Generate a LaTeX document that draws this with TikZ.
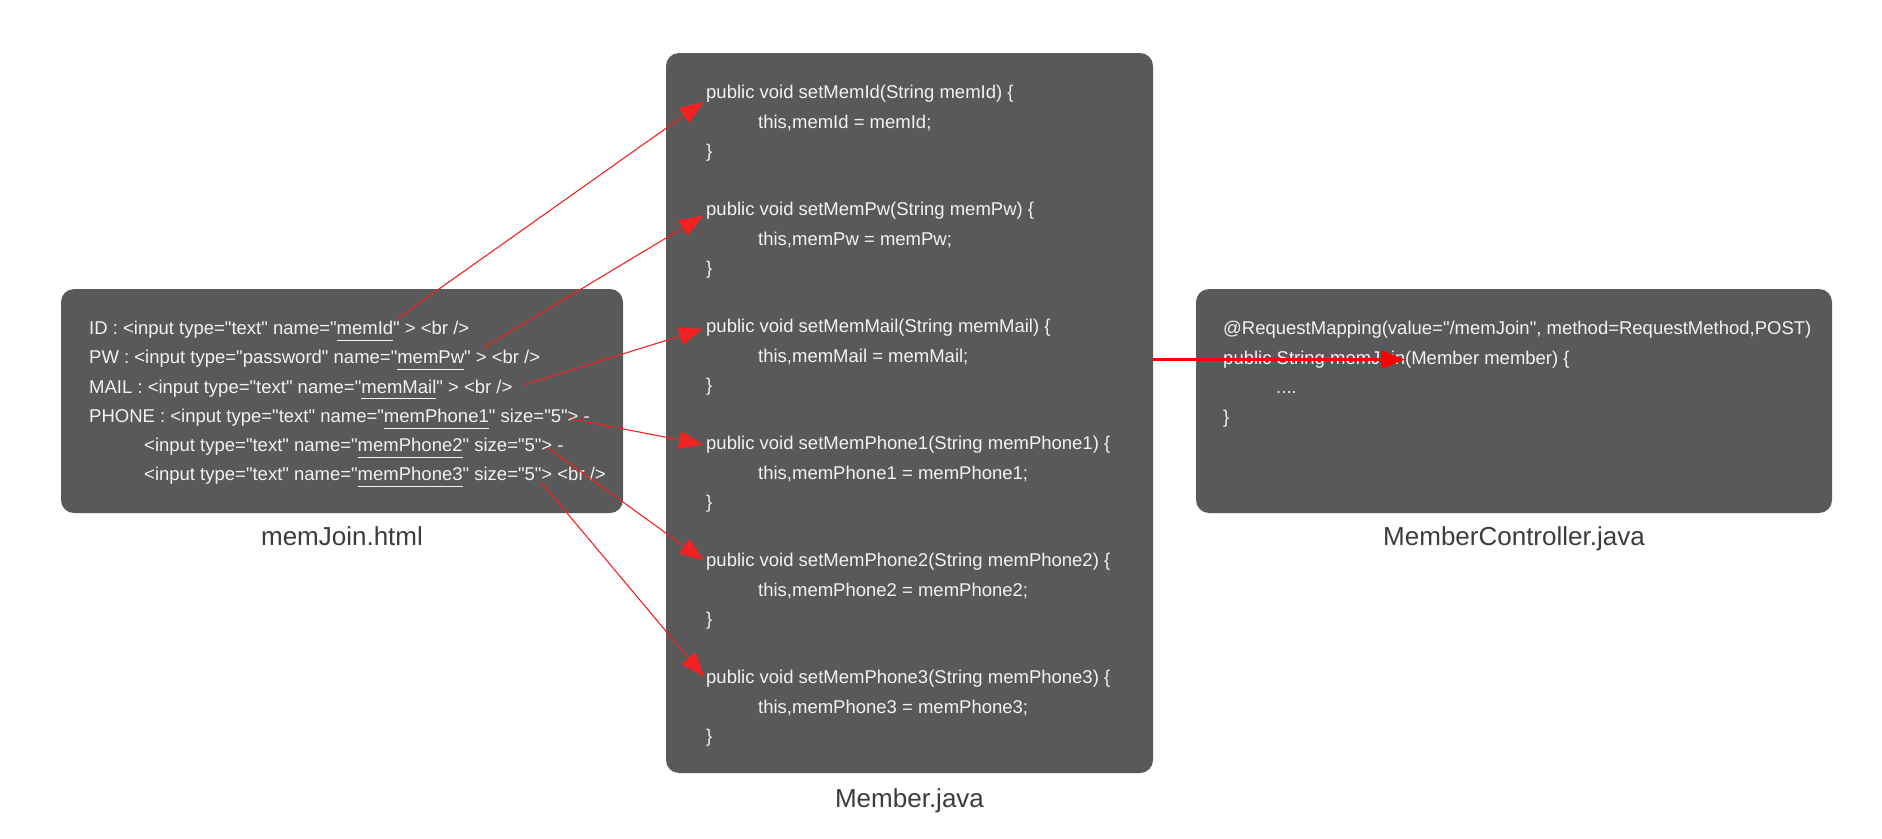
\documentclass[tikz,border=0pt]{standalone}
\usepackage{fontspec}
\setmainfont{Liberation Sans}[Ligatures=TeXOff]
\usetikzlibrary{positioning,arrows.meta}

\definecolor{boxgray}{HTML}{595959}
\definecolor{codewhite}{HTML}{F2F2F2}
\definecolor{labelgray}{HTML}{3C3C3C}
\definecolor{linkred}{HTML}{F22222}
\newcommand\codesize{\fontsize{18.5pt}{22pt}\selectfont}
\newcommand\labelsize{\fontsize{26pt}{30pt}\selectfont}
\newcommand\field[1]{\underline{#1\vphantom{g}}}

\begin{document}
\begin{tikzpicture}[x=1pt,y=-1pt,font=\codesize,>={Triangle[length=24pt,width=18pt]}]
    \tikzstyle{codebox}=[fill=boxgray,rounded corners=13pt,inner sep=0pt]
    \tikzstyle{code}=[anchor=west,inner sep=0pt,text=codewhite,text height=13pt,text depth=4pt]
    \tikzstyle{filename}=[inner sep=0pt,text=labelgray,font=\labelsize]
    \tikzstyle{link}=[->,draw=linkred,line width=1.1pt,shorten >=3pt]

    \useasboundingbox (0,0) rectangle (1882,838);

    % the three files
    \node[codebox,minimum width=562pt,minimum height=224pt] (html) at (342,401) {};
    \node[codebox,minimum width=487pt,minimum height=720pt] (member) at (909.5,413) {};
    \node[codebox,minimum width=636pt,minimum height=224pt] (ctl) at (1514,401) {};

    \node[filename,below=13pt of html] (htmlname) {memJoin.html};
    \node[filename,below=15pt of member] (membername) {Member.java};
    \node[filename,below=13pt of ctl] (ctlname) {MemberController.java};

    % memJoin.html
    \node[code] (inid) at (89,330) {ID : <input type="text" name="\field{memId}" > <br />};
    \node[code] (inpw) at (89,359) {PW : <input type="password" name="\field{memPw}" > <br />};
    \node[code] (inmail) at (89,388.5) {MAIL : <input type="text" name="\field{memMail}" > <br />};
    \node[code] (inph1) at (89,418) {PHONE : <input type="text" name="\field{memPhone1}" size="5"> -};
    \node[code] (inph2) at (144,447) {<input type="text" name="\field{memPhone2}" size="5"> -};
    \node[code] (inph3) at (144,476) {<input type="text" name="\field{memPhone3}" size="5"> <br />};

    % Member.java
    \node[code] (setid) at (706,94) {public void setMemId(String memId) \{};
    \node[code] (bodyid) at (758,123.5) {this,memId = memId;};
    \node[code] (endid) at (706,153) {\}};

    \node[code] (setpw) at (706,211) {public void setMemPw(String memPw) \{};
    \node[code] (bodypw) at (758,240.5) {this,memPw = memPw;};
    \node[code] (endpw) at (706,270) {\}};

    \node[code] (setmail) at (706,328) {public void setMemMail(String memMail) \{};
    \node[code] (bodymail) at (758,357.5) {this,memMail = memMail;};
    \node[code] (endmail) at (706,387) {\}};

    \node[code] (setph1) at (706,445) {public void setMemPhone1(String memPhone1) \{};
    \node[code] (bodyph1) at (758,474.5) {this,memPhone1 = memPhone1;};
    \node[code] (endph1) at (706,504) {\}};

    \node[code] (setph2) at (706,562) {public void setMemPhone2(String memPhone2) \{};
    \node[code] (bodyph2) at (758,591.5) {this,memPhone2 = memPhone2;};
    \node[code] (endph2) at (706,621) {\}};

    \node[code] (setph3) at (706,679) {public void setMemPhone3(String memPhone3) \{};
    \node[code] (bodyph3) at (758,708.5) {this,memPhone3 = memPhone3;};
    \node[code] (endph3) at (706,738) {\}};

    % MemberController.java
    \node[code] (ctlmap) at (1223,330) {@RequestMapping(value="/memJoin", method=RequestMethod,POST)};
    \node[code] (ctlsig) at (1223,359.5) {public String memJoin(Member member) \{};
    \node[code] (ctlbody) at (1276,389) {....};
    \node[code] (ctlend) at (1223,418.5) {\}};

    % form fields to setters
    \coordinate (fromid) at (398,318);
    \coordinate (frompw) at (483,348);
    \coordinate (frommail) at (523,385);
    \coordinate (fromph1) at (572,419);
    \coordinate (fromph2) at (548,448);
    \coordinate (fromph3) at (541,482);
    \coordinate (joinend) at (1408,359.5);

    \draw[link] (fromid) -- ([yshift=-6pt]setid.west);
    \draw[link] (frompw) -- ([yshift=-3pt]setpw.west);
    \draw[link] (frommail) -- (setmail.west);
    \draw[link] (fromph1) -- (setph1.west);
    \draw[link] (fromph2) -- (setph2.west);
    \draw[link] (fromph3) -- (setph3.west);

    \draw[link,draw=red,line width=3pt] (member.east |- ctlsig.west) -- (joinend);
\end{tikzpicture}
\end{document}
